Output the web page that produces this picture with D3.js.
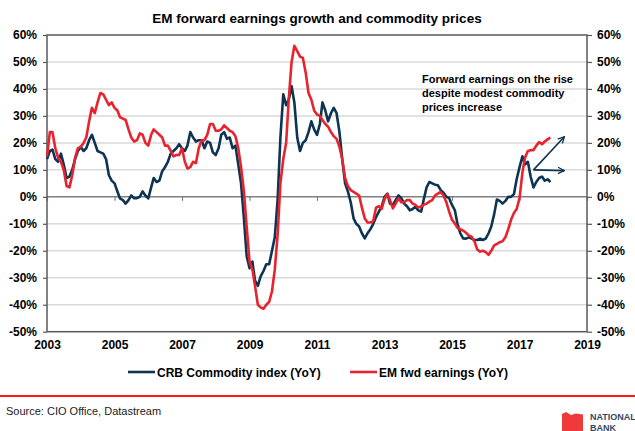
<!DOCTYPE html>
<html>
<head>
<meta charset="utf-8">
<script src="https://cdn.jsdelivr.net/npm/d3@7"></script>
<style>
  body { margin: 0; background: #fff; }
  svg { display: block; font-family: "Liberation Sans", Arial, sans-serif; }
</style>
</head>
<body>
<div id="chart"></div>
<script>
// Monthly series, Jan 2003 .. Dec 2017 (YoY %)
const startYear = 2003;

const crbValues = [
  14, 17, 17.5, 14, 13, 16, 12, 7, 7.5, 10, 14, 17,
  18.5, 17, 18, 21, 23, 20, 17, 16.5, 16, 14, 8, 6,
  5, 2, -0.6, -1.2, -2.5, -1.2, 0.5, -0.5, -0.5, 0, 2, 0.5,
  -0.6, 3.5, 7, 5.5, 6, 9.5, 11, 13, 16, 17, 18, 19.5,
  18, 17, 19, 24, 22, 20.5, 21, 21, 18, 20.5, 20, 16.5,
  15.5, 18, 23, 24, 21.5, 22, 18, 19, 12, 5, -8, -22,
  -26.5, -24, -31, -33, -29.5, -27.5, -25, -25, -20, -15, -1, 22,
  38, 34, 36, 41, 35, 22, 17, 20, 21, 24, 28, 25,
  23, 27, 35, 32, 28, 31, 33, 31, 24, 14, 5, 2,
  -2, -8, -10, -11, -13.5, -15.4, -13.5, -12, -10, -7.5, -5.5, -3.5,
  0, 1.2, -2.5, -3, -1.2, 0.5, -0.5, -2.5, -3.5, -5, -4.5, -3.7,
  -5, -5.5, -1, 3.5, 5.5, 5, 4.5, 4.3, 2.5, 1.5, 0, -0.5,
  -3, -5, -10, -13.5, -15.4, -15.5, -15, -15.5, -16, -16, -15.5, -16,
  -15.5, -13.5, -11, -6.5, -1, -1.5, -2.5, -1.5, 0, 0, 1, 6.5,
  11, 15, 12, 13, 7.5, 3.5, 5.5, 7, 7.5, 6, 6.5, 5.5
];

const emValues = [
  15, 24, 24, 18, 14.5, 13, 10, 4, 3.5, 8, 14.5, 18,
  18.5, 20, 22, 28, 33, 31, 35, 38.5, 38, 36, 34, 35,
  33, 32, 29.5, 29, 28.5, 25, 22, 20.5, 21, 23.5, 23, 20,
  19, 23, 25, 24, 23, 22, 19, 19, 17, 15, 15.5, 15.5,
  18, 13, 10.5, 11, 13, 12.5, 18, 21, 21, 23, 27, 27,
  24.5, 24.5, 25, 26.5, 25.5, 24.5, 24, 22.5, 18, 11, 2, -11,
  -24, -27, -33, -40, -41, -41.5, -40, -39, -35, -27, -14, 5,
  14, 20, 36, 50, 56, 54, 52, 51.5, 46, 38.5, 36, 32,
  30.5, 30, 28.5, 27, 26, 24, 22.5, 21.5, 18.5, 14, 7, 4,
  2.5, 1.8, 1.2, 0.5, -4, -8, -9.5, -9.5, -9, -4, -3.5, -4.5,
  -0.8, 1, -1.2, -4.3, -2.5, -0.6, -2, -2, -1.2, -1.2, -2.5, -3,
  -4, -3.5, -3, -2.5, -1.8, -1.2, 0.5, 1.2, 1.8, 0.5, -2, -5.5,
  -8.5, -9.9, -11.5, -12, -12.5, -13.3, -14.3, -14.8, -16.5, -19.5, -20.3, -20,
  -20.5, -21.5, -20, -18, -17.5, -16.8, -16.5, -15, -12, -8.5, -6, -4.5,
  -0.5, 9, 14.5, 17, 17.3, 17.3, 19, 20.3, 19.5, 20.5, 21.3, 22
];

const yTicks = [-50, -40, -30, -20, -10, 0, 10, 20, 30, 40, 50, 60];
const xTickYears = [2003, 2005, 2007, 2009, 2011, 2013, 2015, 2017, 2019];
const seriesNames = ['CRB Commodity index (YoY)', 'EM fwd earnings (YoY)'];
const annotationLines = ['Forward earnings on the rise', 'despite modest commodity', 'prices increase'];

const navy = '#0e3453';
const red = '#e8232d';

const W = 635, H = 431;
const plot = { left: 47, right: 587, top: 35, bottom: 331.7 };

const svg = d3.select('#chart').append('svg')
  .attr('width', W)
  .attr('height', H);

// Title
svg.append('text')
  .attr('x', 317)
  .attr('y', 23)
  .attr('text-anchor', 'middle')
  .style('font-size', '13.5px')
  .style('font-weight', 'bold')
  .text('EM forward earnings growth and commodity prices');

// Scales
const x = d3.scaleTime()
  .domain([new Date(2003, 0, 1), new Date(2019, 0, 1)])
  .range([plot.left, plot.right]);

const y = d3.scaleLinear()
  .domain([-50, 60])
  .range([plot.bottom, plot.top]);

const monthDate = i => new Date(startYear, i, 1);

// Gridlines
svg.append('g')
  .selectAll('line')
  .data(yTicks.filter(d => d !== 0 && d !== -50 && d !== 60))
  .enter()
  .append('line')
  .attr('x1', plot.left)
  .attr('x2', plot.right)
  .attr('y1', d => y(d))
  .attr('y2', d => y(d))
  .attr('stroke', '#d9d9d9')
  .attr('stroke-width', 1.5);

// Zero line with year ticks
svg.append('line')
  .attr('x1', plot.left)
  .attr('x2', plot.right)
  .attr('y1', y(0))
  .attr('y2', y(0))
  .attr('stroke', '#7f7f7f')
  .attr('stroke-width', 1.5);

const zeroTicks = svg.append('g')
  .attr('transform', `translate(0,${y(0)})`)
  .call(d3.axisBottom(x)
    .tickValues(xTickYears.map(yr => new Date(yr, 0, 1)))
    .tickSize(4)
    .tickFormat(''));
zeroTicks.select('.domain').remove();
zeroTicks.selectAll('line').attr('stroke', '#7f7f7f').attr('stroke-width', 1.2);

// Frame
svg.append('rect')
  .attr('x', plot.left)
  .attr('y', plot.top)
  .attr('width', plot.right - plot.left)
  .attr('height', plot.bottom - plot.top)
  .attr('fill', 'none')
  .attr('stroke', '#595959')
  .attr('stroke-width', 1.5);

// Axes
const fmt = d => d + '%';

const leftAxis = svg.append('g')
  .attr('transform', `translate(${plot.left},0)`)
  .call(d3.axisLeft(y).tickValues(yTicks).tickSize(4).tickPadding(6).tickFormat(fmt));

const rightAxis = svg.append('g')
  .attr('transform', `translate(${plot.right},0)`)
  .call(d3.axisRight(y).tickValues(yTicks).tickSize(5).tickPadding(5).tickFormat(fmt));

const bottomAxis = svg.append('g')
  .attr('transform', `translate(0,${plot.bottom})`)
  .call(d3.axisBottom(x)
    .tickValues(xTickYears.map(yr => new Date(yr, 0, 1)))
    .tickSize(0)
    .tickPadding(9)
    .tickFormat(d3.timeFormat('%Y')));

[leftAxis, rightAxis, bottomAxis].forEach(g => {
  g.select('.domain').remove();
  g.selectAll('line').attr('stroke', '#595959').attr('stroke-width', 1.2);
  g.selectAll('text')
    .style('font-family', '"Liberation Sans", Arial, sans-serif')
    .style('font-size', '12px')
    .style('font-weight', 'bold')
    .attr('fill', '#000');
});

// Lines
const line = d3.line()
  .x((d, i) => x(monthDate(i)))
  .y(d => y(d));

svg.append('path')
  .datum(crbValues)
  .attr('d', line)
  .attr('fill', 'none')
  .attr('stroke', navy)
  .attr('stroke-width', 2.6)
  .attr('stroke-linejoin', 'round');

svg.append('path')
  .datum(emValues)
  .attr('d', line)
  .attr('fill', 'none')
  .attr('stroke', red)
  .attr('stroke-width', 2.6)
  .attr('stroke-linejoin', 'round');

// Annotation text
svg.append('g')
  .selectAll('text')
  .data(annotationLines)
  .enter()
  .append('text')
  .attr('x', 422)
  .attr('y', (d, i) => 83 + i * 14)
  .style('font-size', '11px')
  .style('font-weight', 'bold')
  .text(d => d);

// Arrows
svg.append('defs').append('marker')
  .attr('id', 'arrow')
  .attr('viewBox', '0 0 10 10')
  .attr('refX', 9)
  .attr('refY', 5)
  .attr('markerWidth', 5)
  .attr('markerHeight', 5)
  .attr('orient', 'auto')
  .append('path')
  .attr('d', 'M1,1 L9,5 L1,9')
  .attr('fill', 'none')
  .attr('stroke', navy)
  .attr('stroke-width', 1.6);

const arrowStart = { date: new Date(2017, 5, 1), value: 10 };
const arrowEnds = [
  { date: new Date(2018, 4, 1), value: 22.3 },
  { date: new Date(2018, 4, 1), value: 9.7 }
];

arrowEnds.forEach(end => {
  svg.append('line')
    .attr('x1', x(arrowStart.date))
    .attr('y1', y(arrowStart.value))
    .attr('x2', x(end.date))
    .attr('y2', y(end.value))
    .attr('stroke', navy)
    .attr('stroke-width', 1.6)
    .attr('marker-end', 'url(#arrow)');
});

// Legend
const legend = svg.append('g');
const legendItems = [
  { name: seriesNames[0], color: navy, x: 128 },
  { name: seriesNames[1], color: red, x: 350 }
];
legendItems.forEach(item => {
  legend.append('line')
    .attr('x1', item.x)
    .attr('x2', item.x + 27)
    .attr('y1', 372)
    .attr('y2', 372)
    .attr('stroke', item.color)
    .attr('stroke-width', 2.6);
  legend.append('text')
    .attr('x', item.x + 29)
    .attr('y', 376.5)
    .style('font-size', '12px')
    .style('font-weight', 'bold')
    .text(item.name);
});

// Footer
svg.append('line')
  .attr('x1', 0)
  .attr('x2', W)
  .attr('y1', 396)
  .attr('y2', 396)
  .attr('stroke', '#ff1a1a')
  .attr('stroke-width', 2);

svg.append('text')
  .attr('x', 6)
  .attr('y', 415)
  .style('font-size', '11px')
  .attr('fill', '#222')
  .text('Source: CIO Office, Datastream');

// National Bank logo
svg.append('path')
  .attr('d', 'M562,414 L566,412 L571,415 L576,413.5 L583,414.5 L583,431 L562,431 Z')
  .attr('fill', '#ee3a3a');

svg.append('text')
  .attr('x', 590)
  .attr('y', 420)
  .style('font-size', '9px')
  .style('font-weight', 'bold')
  .attr('fill', '#34495e')
  .text('NATIONAL');

svg.append('text')
  .attr('x', 590)
  .attr('y', 430.5)
  .style('font-size', '9px')
  .style('font-weight', 'bold')
  .attr('fill', '#34495e')
  .text('BANK');
</script>
</body>
</html>
